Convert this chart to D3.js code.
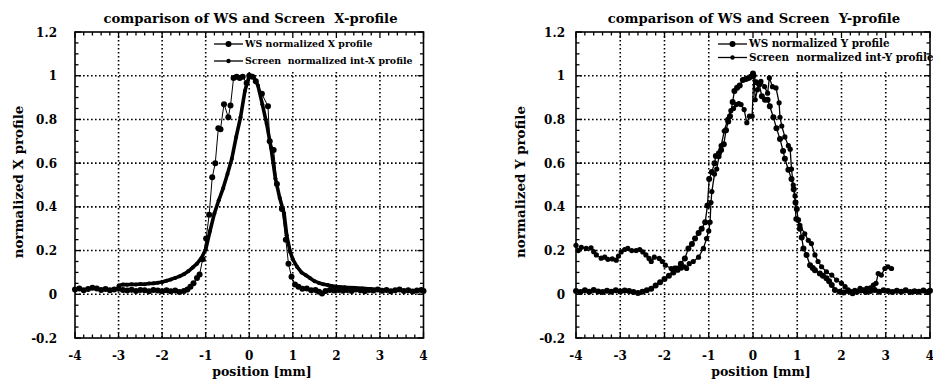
<!DOCTYPE html>
<html>
<head>
<meta charset="utf-8">
<script src="https://cdn.jsdelivr.net/npm/d3@7/dist/d3.min.js"></script>
<style>
  html, body { margin: 0; padding: 0; background: #fff; }
  svg { display: block; }
  text { font-family: "DejaVu Serif", "Liberation Serif", serif; font-weight: bold; fill: #000; white-space: pre; }
</style>
</head>
<body>
<svg id="chart" width="933" height="380"></svg>
<script>
// Axis ticks shared by both panels
const xTicks = [-4, -3, -2, -1, 0, 1, 2, 3, 4];
const yTicks = [-0.2, 0, 0.2, 0.4, 0.6, 0.8, 1, 1.2];
const yTickLabels = ["-0.2", "0", "0.2", "0.4", "0.6", "0.8", "1", "1.2"];

// Wire-scanner horizontal profile [position mm, normalized]
const wsX = [
  [-4.0,0.022],[-3.9,0.026],[-3.8,0.018],[-3.7,0.024],[-3.6,0.03],[-3.5,0.026],[-3.4,0.02],[-3.3,0.024],
  [-3.2,0.018],[-3.1,0.022],[-3.0,0.025],[-2.9,0.02],[-2.8,0.017],[-2.7,0.021],[-2.6,0.015],[-2.5,0.02],
  [-2.4,0.018],[-2.3,0.014],[-2.2,0.02],[-2.1,0.017],[-2.0,0.014],[-1.9,0.019],[-1.8,0.014],[-1.7,0.017],
  [-1.6,0.011],[-1.5,0.015],[-1.42,0.022],[-1.35,0.035],[-1.28,0.05],[-1.2,0.075],[-1.14,0.09],[-1.07,0.16],
  [-0.99,0.255],[-0.92,0.364],[-0.85,0.535],[-0.78,0.6],[-0.71,0.76],[-0.66,0.755],[-0.58,0.87],[-0.48,0.81],
  [-0.43,0.864],[-0.36,0.99],[-0.29,0.995],[-0.22,0.99],[-0.15,0.995],[-0.06,0.967],[0.0,1.0],[0.07,0.995],
  [0.15,0.975],[0.29,0.917],[0.43,0.86],[0.47,0.70],[0.56,0.66],[0.635,0.505],[0.75,0.39],[0.84,0.25],
  [0.9,0.14],[0.97,0.08],[1.05,0.045],[1.13,0.035],[1.22,0.025],[1.32,0.027],[1.42,0.018],[1.52,0.02],
  [1.6,0.012],[1.67,0.004],[1.75,0.015],[1.85,0.02],[1.95,0.017],[2.05,0.02],[2.15,0.016],[2.25,0.02],
  [2.35,0.015],[2.45,0.022],[2.55,0.018],[2.65,0.014],[2.75,0.02],[2.85,0.017],[2.95,0.022],[3.05,0.016],
  [3.15,0.02],[3.25,0.014],[3.35,0.018],[3.45,0.022],[3.55,0.015],[3.65,0.019],[3.75,0.013],[3.85,0.017],
  [3.95,0.02],[4.0,0.015]
];

// Screen integrated horizontal profile
const screenX = [
  [-3.0,0.04],[-2.9,0.045],[-2.8,0.044],[-2.7,0.046],[-2.6,0.045],[-2.5,0.047],[-2.4,0.046],[-2.3,0.049],
  [-2.2,0.05],[-2.1,0.053],[-2.0,0.056],[-1.9,0.062],[-1.8,0.068],[-1.7,0.075],[-1.6,0.082],[-1.5,0.092],
  [-1.4,0.105],[-1.3,0.122],[-1.2,0.14],[-1.1,0.165],[-1.0,0.205],[-0.9,0.29],[-0.8,0.37],[-0.7,0.43],
  [-0.6,0.485],[-0.5,0.55],[-0.4,0.62],[-0.3,0.72],[-0.2,0.81],[-0.1,0.93],[0.0,1.0],[0.1,0.995],
  [0.2,0.955],[0.3,0.87],[0.4,0.78],[0.5,0.67],[0.6,0.53],[0.7,0.44],[0.8,0.37],[0.86,0.27],
  [0.94,0.194],[1.0,0.16],[1.1,0.125],[1.2,0.1],[1.3,0.087],[1.4,0.073],[1.5,0.06],[1.6,0.052],
  [1.7,0.046],[1.8,0.042],[1.9,0.038],[2.0,0.035],[2.2,0.032],[2.4,0.03],[2.6,0.027],[2.8,0.024],[3.0,0.022]
];

// Wire-scanner vertical profile
const wsY = [
  [-4.0,0.015],[-3.9,0.01],[-3.8,0.018],[-3.7,0.012],[-3.6,0.02],[-3.5,0.013],[-3.4,0.01],[-3.3,0.016],
  [-3.2,0.012],[-3.1,0.018],[-3.0,0.013],[-2.9,0.017],[-2.8,0.015],[-2.7,0.01],[-2.6,0.006],[-2.5,0.012],
  [-2.4,0.018],[-2.3,0.025],[-2.2,0.04],[-2.1,0.055],[-2.0,0.07],[-1.9,0.085],[-1.8,0.1],[-1.72,0.118],
  [-1.63,0.14],[-1.54,0.164],[-1.46,0.21],[-1.38,0.23],[-1.31,0.255],[-1.23,0.28],[-1.16,0.3],[-1.08,0.33],
  [-1.03,0.406],[-0.99,0.527],[-0.93,0.56],[-0.87,0.6],[-0.84,0.633],[-0.77,0.645],[-0.72,0.66],[-0.66,0.686],
  [-0.61,0.75],[-0.56,0.79],[-0.52,0.815],[-0.46,0.88],[-0.42,0.93],[-0.36,0.945],[-0.3,0.955],[-0.23,0.98],
  [-0.16,0.985],[-0.1,0.99],[-0.05,0.995],[0.0,1.01],[0.07,0.97],[0.14,0.96],[0.2,0.906],[0.27,0.89],
  [0.33,0.89],[0.38,0.86],[0.46,0.81],[0.53,0.76],[0.61,0.71],[0.68,0.656],[0.72,0.62],[0.8,0.57],
  [0.87,0.527],[0.92,0.48],[0.96,0.42],[0.99,0.39],[1.02,0.34],[1.06,0.3],[1.1,0.26],[1.14,0.21],
  [1.21,0.18],[1.29,0.133],[1.35,0.12],[1.4,0.11],[1.51,0.095],[1.58,0.085],[1.66,0.073],[1.72,0.06],
  [1.78,0.042],[1.85,0.02],[1.96,0.012],[2.05,0.008],[2.15,0.015],[2.25,0.005],[2.35,0.012],[2.45,0.018],
  [2.55,0.01],[2.65,0.015],[2.75,0.02],[2.85,0.012],[2.95,0.018],[3.05,0.015],[3.15,0.01],[3.25,0.016],
  [3.35,0.012],[3.45,0.018],[3.55,0.01],[3.65,0.014],[3.75,0.012],[3.85,0.017],[3.95,0.011],[4.0,0.016]
];

// Screen integrated vertical profile
const screenY = [
  [-4.0,0.224],[-3.95,0.2],[-3.88,0.215],[-3.77,0.21],[-3.66,0.212],[-3.6,0.195],[-3.54,0.18],[-3.43,0.165],
  [-3.35,0.17],[-3.28,0.16],[-3.18,0.162],[-3.09,0.156],[-3.04,0.175],[-2.98,0.194],[-2.9,0.205],[-2.83,0.21],
  [-2.74,0.2],[-2.64,0.2],[-2.56,0.205],[-2.49,0.194],[-2.42,0.18],[-2.35,0.164],[-2.3,0.15],[-2.23,0.17],
  [-2.12,0.164],[-2.05,0.15],[-1.98,0.133],[-1.85,0.118],[-1.77,0.12],[-1.7,0.11],[-1.62,0.12],[-1.55,0.126],
  [-1.5,0.118],[-1.44,0.14],[-1.35,0.15],[-1.23,0.17],[-1.12,0.21],[-1.05,0.255],[-1.0,0.29],[-0.97,0.33],
  [-0.95,0.42],[-0.93,0.47],[-0.87,0.55],[-0.82,0.573],[-0.77,0.63],[-0.72,0.68],[-0.65,0.747],[-0.57,0.8],
  [-0.5,0.84],[-0.44,0.85],[-0.38,0.868],[-0.32,0.872],[-0.27,0.868],[-0.2,0.845],[-0.14,0.785],[-0.08,0.815],
  [-0.02,0.815],[0.02,1.0],[0.05,0.89],[0.1,0.936],[0.18,0.974],[0.26,0.95],[0.33,0.92],[0.37,0.99],
  [0.44,0.95],[0.52,0.944],[0.59,0.876],[0.61,0.81],[0.65,0.77],[0.72,0.72],[0.8,0.68],[0.84,0.664],
  [0.87,0.573],[0.91,0.5],[0.95,0.45],[0.97,0.345],[1.06,0.315],[1.17,0.277],[1.25,0.247],[1.32,0.232],
  [1.4,0.18],[1.47,0.15],[1.55,0.126],[1.66,0.103],[1.78,0.088],[1.89,0.065],[2.0,0.05],[2.08,0.035],
  [2.15,0.02],[2.22,0.012],[2.3,0.018],[2.42,0.027],[2.5,0.02],[2.57,0.027],[2.65,0.03],[2.72,0.042],
  [2.78,0.05],[2.83,0.095],[2.9,0.088],[2.98,0.118],[3.05,0.126],[3.13,0.118]
];

const panels = [
  {
    left: 75, right: 423.5, top: 32, bottom: 338,
    title: "comparison of WS and Screen  X-profile", titleX: 250.5,
    yLabel: "normalized X profile", yLabelX: 18,
    xLabelX: 262, tickGap: 18,
    legendX: 214, legendBoxX: 209, legendRows: [44, 61], legendSize: 9.4,
    series: [
      { name: "WS normalized X profile", data: wsX, width: 1, r: 3 },
      { name: "Screen  normalized int-X profile", data: screenX, width: 3.6, r: 2 }
    ]
  },
  {
    left: 576, right: 930, top: 32, bottom: 338,
    title: "comparison of WS and Screen  Y-profile", titleX: 754,
    yLabel: "normalized Y profile", yLabelX: 520,
    xLabelX: 761, tickGap: 11,
    legendX: 718, legendBoxX: 713, legendRows: [44, 57.5], legendSize: 10.4,
    series: [
      { name: "WS normalized Y profile", data: wsY, width: 1.3, r: 3 },
      { name: "Screen  normalized int-Y profile", data: screenY, width: 1.3, r: 2.6 }
    ]
  }
];

const svg = d3.select("#chart");

function drawPanel(p) {
  const x = d3.scaleLinear().domain([-4, 4]).range([p.left, p.right]);
  const y = d3.scaleLinear().domain([-0.2, 1.2]).range([p.bottom, p.top]);
  const g = svg.append("g");

  // dotted grid at major ticks
  g.append("g").selectAll("line").data(xTicks.slice(1, -1)).join("line")
    .attr("x1", d => x(d)).attr("x2", d => x(d))
    .attr("y1", p.top).attr("y2", p.bottom)
    .attr("stroke", "#000").attr("stroke-width", 1.6).attr("stroke-dasharray", "1.6,2.4");
  g.append("g").selectAll("line").data(yTicks.slice(1, -1)).join("line")
    .attr("y1", d => y(d)).attr("y2", d => y(d))
    .attr("x1", p.left).attr("x2", p.right)
    .attr("stroke", "#000").attr("stroke-width", 1.6).attr("stroke-dasharray", "1.6,2.4");

  // legend backdrop hides the grid behind the key
  g.append("rect").attr("x", p.legendBoxX).attr("y", p.top)
    .attr("width", p.right - p.legendBoxX).attr("height", y(1) - p.top - 4)
    .attr("fill", "#fff");

  // inward ticks on all four sides
  const xMinor = d3.range(-4, 4.001, 0.2);
  const yMinor = d3.range(-0.2, 1.2001, 0.05);
  const tg = g.append("g").attr("stroke", "#000").attr("stroke-width", 1.3);
  xMinor.forEach(v => {
    const len = Math.abs(v - Math.round(v)) < 1e-6 ? 6 : 3.5;
    tg.append("line").attr("x1", x(v)).attr("x2", x(v)).attr("y1", p.bottom).attr("y2", p.bottom - len);
    tg.append("line").attr("x1", x(v)).attr("x2", x(v)).attr("y1", p.top).attr("y2", p.top + len);
  });
  yMinor.forEach(v => {
    const major = Math.abs(v * 5 - Math.round(v * 5)) < 1e-6;
    const len = major ? 6 : 3.5;
    tg.append("line").attr("y1", y(v)).attr("y2", y(v)).attr("x1", p.left).attr("x2", p.left + len);
    tg.append("line").attr("y1", y(v)).attr("y2", y(v)).attr("x1", p.right).attr("x2", p.right - len);
  });

  // frame
  g.append("rect").attr("x", p.left).attr("y", p.top)
    .attr("width", p.right - p.left).attr("height", p.bottom - p.top)
    .attr("fill", "none").attr("stroke", "#000").attr("stroke-width", 1.6);

  // tick labels
  g.append("g").selectAll("text").data(xTicks).join("text")
    .attr("x", d => x(d)).attr("y", 359.5).attr("text-anchor", "middle")
    .attr("font-size", 12).text(d => d);
  g.append("g").selectAll("text").data(yTicks).join("text")
    .attr("x", p.left - p.tickGap).attr("y", d => y(d) + 4.5).attr("text-anchor", "end")
    .attr("font-size", 12).text((d, i) => yTickLabels[i]);

  // titles
  g.append("text").attr("x", p.titleX).attr("y", 22.5).attr("text-anchor", "middle")
    .attr("font-size", 13.2).text(p.title);
  g.append("text").attr("x", p.xLabelX).attr("y", 376).attr("text-anchor", "middle")
    .attr("font-size", 12.5).text("position [mm]");
  g.append("text")
    .attr("transform", `translate(${p.yLabelX + 4.5},${182}) rotate(-90)`)
    .attr("text-anchor", "middle").attr("font-size", 13.4).text(p.yLabel);

  // series
  const line = d3.line().x(d => x(d[0])).y(d => y(d[1]));
  p.series.forEach(s => {
    g.append("path").datum(s.data).attr("d", line)
      .attr("fill", "none").attr("stroke", "#000").attr("stroke-width", s.width)
      .attr("stroke-linejoin", "round");
    g.append("g").selectAll("circle").data(s.data).join("circle")
      .attr("cx", d => x(d[0])).attr("cy", d => y(d[1])).attr("r", s.r).attr("fill", "#000");
  });

  // legend
  p.series.forEach((s, i) => {
    const ly = p.legendRows[i];
    g.append("line").attr("x1", p.legendX).attr("x2", p.legendX + 29)
      .attr("y1", ly).attr("y2", ly).attr("stroke", "#000").attr("stroke-width", 1.3);
    g.append("circle").attr("cx", p.legendX + 14.5).attr("cy", ly).attr("r", i === 0 ? 3 : 2.2).attr("fill", "#000");
    g.append("text").attr("x", p.legendX + 31).attr("y", ly + 3.3)
      .attr("font-size", p.legendSize).text(s.name);
  });
}

panels.forEach(drawPanel);
</script>
</body>
</html>
